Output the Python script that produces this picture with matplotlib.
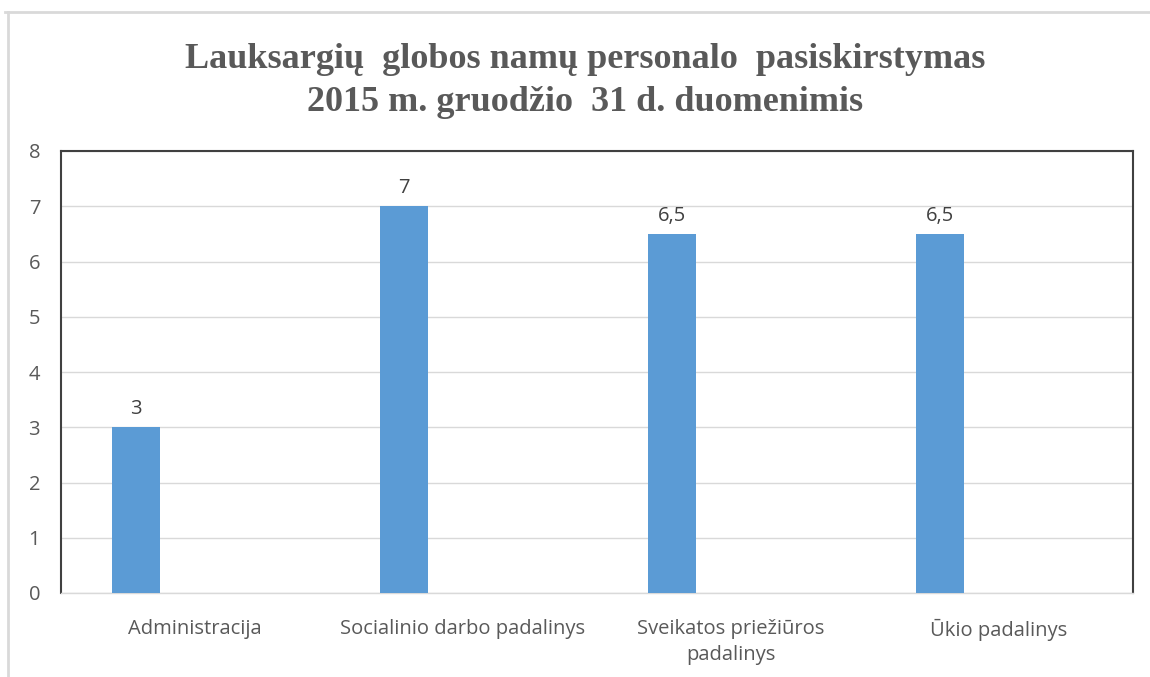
import numpy as np
import matplotlib.pyplot as plt
from matplotlib.lines import Line2D

categories = ['Administracija', 'Socialinio darbo padalinys',
              'Sveikatos priežiūros\npadalinys', 'Ūkio padalinys']
values = [3, 7, 6.5, 6.5]
value_labels = ['3', '7', '6,5', '6,5']
title = 'Lauksargių  globos namų personalo  pasiskirstymas\n2015 m. gruodžio  31 d. duomenimis'

text_color = '#595959'
bar_color = '#5b9bd5'

fig = plt.figure(figsize=(11.5, 6.77), dpi=100)
ax = fig.add_axes([61 / 1150, 84 / 677, (1133 - 61) / 1150, (593 - 151) / 677])

x = np.arange(len(categories))
bars = ax.bar(x - 0.22, values, width=0.18, color=bar_color, zorder=3)

for b, lab in zip(bars, value_labels):
    ax.annotate(lab, (b.get_x() + b.get_width() / 2, b.get_height()),
                xytext=(0, 6), textcoords='offset points', ha='center', va='bottom',
                fontsize=14.5, color='#404040', family='Open Sans')

ax.set_xlim(-0.5, len(categories) - 0.5)
ax.set_ylim(0, 8)
ax.set_yticks(range(0, 9))
ax.set_xticks(x)
ax.set_xticklabels(categories, fontsize=14.5, color=text_color, family='Open Sans',
                   linespacing=1.4)
for t in ax.get_yticklabels():
    t.set_fontsize(14.5)
    t.set_color(text_color)
    t.set_family('Open Sans')
ax.tick_params(axis='both', length=0)
ax.tick_params(axis='y', pad=15)
ax.tick_params(axis='x', pad=19)

ax.grid(axis='y', color='#d9d9d9', linewidth=1, zorder=0)
for s in ['left', 'top', 'right']:
    ax.spines[s].set_color('#404040')
    ax.spines[s].set_linewidth(1.5)
ax.spines['bottom'].set_color('#d9d9d9')
ax.spines['bottom'].set_linewidth(1)

fig.text(585 / 1150, 1 - 81 / 677, title, ha='center', va='center',
         fontsize=26, fontweight='bold', color=text_color, family='Liberation Serif',
         linespacing=1.4)

# outer chart frame
fig.add_artist(Line2D([5 / 1150, 1], [1 - 12 / 677, 1 - 12 / 677], color='#d9d9d9', lw=2))
fig.add_artist(Line2D([8 / 1150, 8 / 1150], [0, 1 - 12 / 677], color='#d9d9d9', lw=2))

fig.savefig('out.png', dpi=100)
